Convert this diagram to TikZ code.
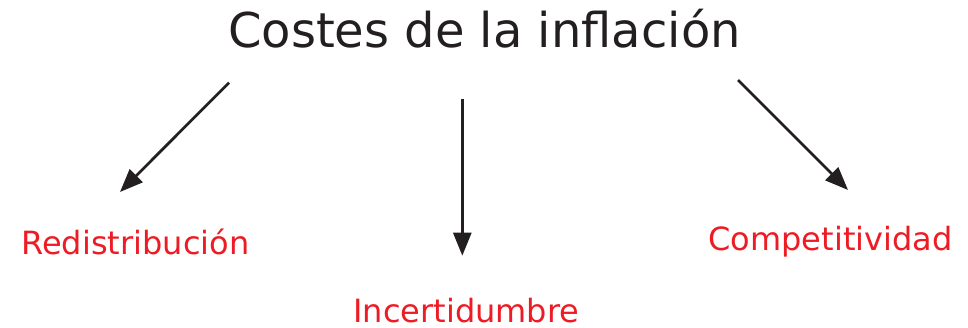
\documentclass[tikz,border=0pt]{standalone}
\usepackage{fontspec}
\setmainfont{DejaVu Sans}
\usetikzlibrary{arrows.meta}
\definecolor{titlegray}{HTML}{231F20}
\definecolor{labelred}{HTML}{ED1C24}
\tikzset{
  titletext/.style={inner sep=0pt, anchor=base, text=titlegray, font=\fontsize{48}{58}\selectfont},
  labeltext/.style={inner sep=0pt, anchor=base, text=labelred, font=\fontsize{32}{38}\selectfont},
  costarrow/.style={draw=titlegray, line width=2.7pt, -{Triangle[length=23pt,width=18pt]}}
}
\begin{document}
\begin{tikzpicture}[x=1pt,y=1pt]
  \useasboundingbox (0,0) rectangle (968,328);
  \node[titletext] (title) at (484.5,280) {Costes de la inflación};
  \node[labeltext] (redis) at (135.4,73) {Redistribución};
  \node[labeltext] (incer) at (466.4,5.3) {Incertidumbre};
  \node[labeltext] (compe) at (830.5,77) {Competitividad};
  \coordinate (a1s) at (229,245.3);
  \coordinate (a1e) at (120,136);
  \coordinate (a2s) at (462.3,229);
  \coordinate (a2e) at (462.3,72.3);
  \coordinate (a3s) at (738,248);
  \coordinate (a3e) at (848,138);
  \draw[costarrow] (a1s) -- (a1e);
  \draw[costarrow] (a2s) -- (a2e);
  \draw[costarrow] (a3s) -- (a3e);
\end{tikzpicture}
\end{document}
